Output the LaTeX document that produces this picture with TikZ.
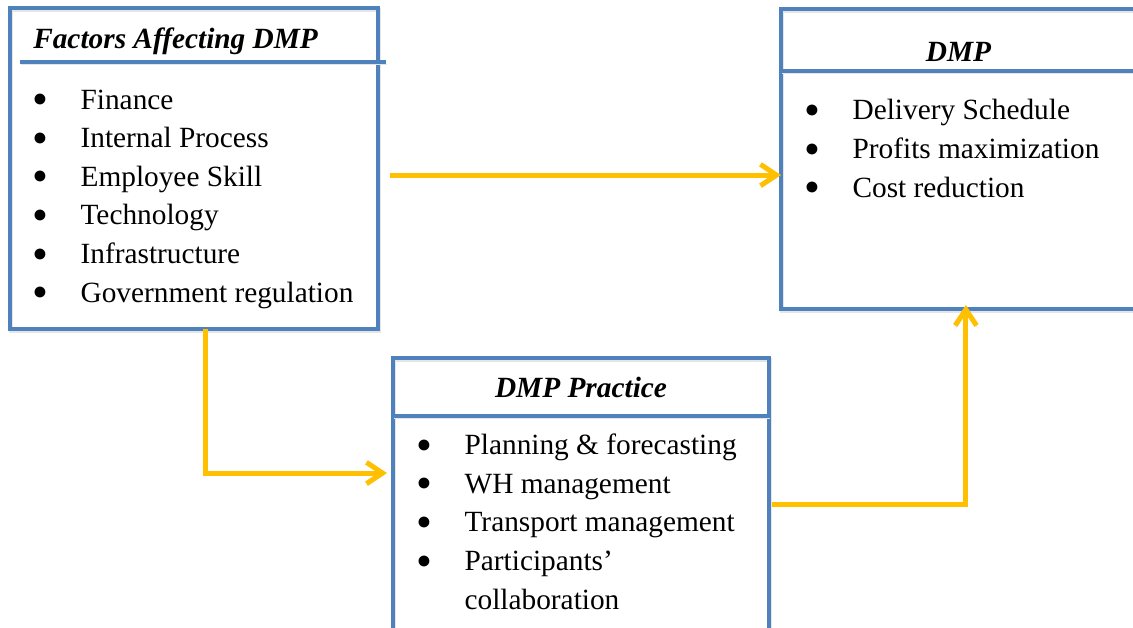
\documentclass[tikz,border=0pt]{standalone}
\usepackage{fontspec}
\setmainfont{Liberation Serif}
\usetikzlibrary{arrows.meta,calc}
\definecolor{frameblue}{HTML}{4F81BD}
\definecolor{flowgold}{HTML}{FFC000}
% large bullet plus fixed indent for the list entries
\newcommand{\bul}{\raisebox{-4.2pt}[0pt][0pt]{\fontsize{34}{0}\selectfont\textbullet}}
\newcommand{\itm}[1]{\makebox[34pt][l]{\hspace{-2pt}\bul}#1}

\begin{document}
\begin{tikzpicture}[x=0.75pt,y=-0.75pt,
  font=\fontsize{22}{28.95}\selectfont,
  soft/.style={preaction={draw=black!10,transform canvas={shift={(0.8pt,-1.6pt)}}}},
  panel/.style={draw=frameblue,line width=3pt,anchor=north west,
                inner sep=0pt,outer sep=0pt,soft},
  rule/.style={draw=frameblue,line width=3pt,soft},
  title/.style={font=\fontsize{22}{26}\selectfont\bfseries\itshape,inner sep=0pt},
  items/.style={align=left,inner sep=0pt,anchor=base west},
  flow/.style={draw=flowgold,line width=3.75pt,soft,
               -{Straight Barb[length=12pt,width=16pt]}}]
  \clip (0,0) rectangle (1133,628);

  % the three panels
  \node[panel,minimum width=276pt,minimum height=240.75pt] (factors) at (10,8) {};
  \node[panel,minimum width=269.25pt,minimum height=225pt] (dmp) at (781,9) {};
  \node[panel,minimum width=282pt,minimum height=211.5pt] (practice) at (393,358) {};

  % header rules
  \draw[rule] ($(factors.north west)+(10,54)$) -- ++(366,0);
  \draw[rule] ($(dmp.north west)+(0,62)$) -- ($(dmp.north east)+(0,62)$);
  \draw[rule] ($(practice.north west)+(0,58)$) -- ($(practice.north east)+(0,58)$);

  % headings
  \node[title,anchor=base west] (factorstitle) at ($(factors.north west)+(23,40)$)
    {Factors Affecting DMP};
  \node[title,anchor=base] (dmptitle) at ($(dmp.north)+(-2,52)$) {DMP};
  \node[title,anchor=base] (practicetitle) at ($(practice.north)+(0,39)$)
    {DMP Practice};

  % lists (base = baseline of the last line)
  \node[items] (factorlist) at ($(factors.north west)+(25,294)$)
    {\itm{Finance}\\
     \itm{Internal Process}\\
     \itm{Employee Skill}\\
     \itm{Technology}\\
     \itm{Infrastructure}\\
     \itm{Government regulation}};
  \node[items] (dmplist) at ($(dmp.north west)+(26,188)$)
    {\itm{Delivery Schedule}\\
     \itm{Profits maximization}\\
     \itm{Cost reduction}};
  \node[items] (practicelist) at ($(practice.north west)+(26,251)$)
    {\itm{Planning \& forecasting}\\
     \itm{WH management}\\
     \itm{Transport management}\\
     \itm{Participants'}\\
     \makebox[34pt]{}collaboration};

  % connectors
  \draw[flow] ([xshift=9pt,yshift=-4.9pt]factors.east)
    -- ([yshift=-4.9pt]factors.east -| dmp.west);
  \draw[flow] ([xshift=8.25pt]factors.south)
    |- ([xshift=-4.5pt,yshift=19.5pt]practice.west);
  \draw[flow] ([xshift=2.25pt,yshift=-3.75pt]practice.east)
    -| ([xshift=4pt,yshift=3pt]dmp.south);
\end{tikzpicture}
\end{document}
